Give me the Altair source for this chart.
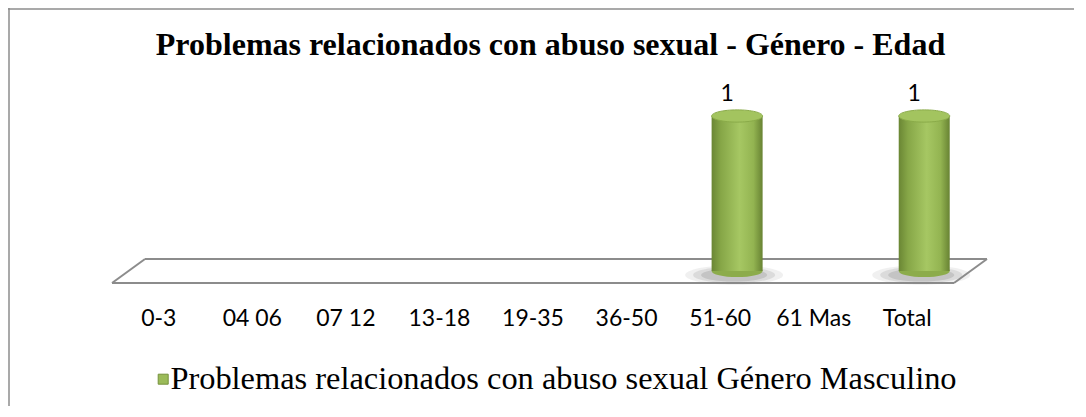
import altair as alt
import pandas as pd

# ---- data ----
categories = ["0-3", "04 06", "07 12", "13-18", "19-35", "36-50", "51-60", "61 Mas", "Total"]
values = [0, 0, 0, 0, 0, 0, 1, 0, 1]
series_name = "Problemas relacionados con abuso sexual Género Masculino"
title_text = "Problemas relacionados con abuso sexual - Género - Edad"

df = pd.DataFrame({"edad": categories, "valor": values, "serie": series_name})
one = pd.DataFrame({"k": [0]})

W, H = 842, 155
GREY = "#8C8C8C"

xenc = alt.X(
    "edad:N",
    sort=categories,
    scale=alt.Scale(domain=categories, paddingInner=0, paddingOuter=0),
    axis=alt.Axis(
        title=None, domain=False, ticks=False, grid=False, labelAngle=0,
        labelFont="Lato", labelFontSize=23, labelColor="black",
        labelPadding=36, labelLimit=0, labelOverlap=False,
    ),
)
yscale = alt.Scale(domain=[0, 1], nice=False, zero=True)
yenc = alt.Y("valor:Q", scale=yscale, axis=None)
y0enc = alt.Y("cero:Q", scale=yscale, axis=None)

body_grad = alt.Gradient(
    gradient="linear", x1=0, x2=1, y1=0, y2=0,
    stops=[
        alt.GradientStop(offset=0, color="#6A8634"),
        alt.GradientStop(offset=0.18, color="#86A647"),
        alt.GradientStop(offset=0.55, color="#A6C763"),
        alt.GradientStop(offset=0.82, color="#93B451"),
        alt.GradientStop(offset=1, color="#688333"),
    ],
)

ELLIPSE = "M -1 0 A 1 0.24 0 1 1 1 0 A 1 0.24 0 1 1 -1 0 Z"
FLAT = "M -1 0 A 1 0.2 0 1 1 1 0 A 1 0.2 0 1 1 -1 0 Z"
LEGEND_SQUARE = "M 0.8 -1 L 2.8 -1 L 2.8 1 L 0.8 1 Z"
BAR_W = 51
DEPTH_DX = 17

base = alt.Chart(df).encode(x=xenc)
pos = base.transform_filter("datum.valor > 0").transform_calculate(cero="0")

# chart title
title = alt.Chart(one).mark_text(
    text=title_text, font="Liberation Serif", fontSize=32, fontWeight="bold",
    color="black", align="center", baseline="alphabetic",
).encode(x=alt.value(438.5), y=alt.value(-61))

# frame (left and top border of the chart box)
frame_left = alt.Chart(one).mark_rule(color=GREY, strokeWidth=1.5).encode(
    x=alt.value(-103), y=alt.value(-108), y2=alt.value(H + 135)
)
frame_top = alt.Chart(one).mark_rule(color=GREY, strokeWidth=1.5).encode(
    x=alt.value(-104), x2=alt.value(W + 120), y=alt.value(-107)
)

# 3-D floor (parallelogram)
def edge(x1, y1, x2, y2):
    return alt.Chart(one).mark_rule(color=GREY, strokeWidth=2).encode(
        x=alt.value(x1), y=alt.value(y1), x2=alt.value(x2), y2=alt.value(y2)
    )

floor = [
    edge(0, 167, W, 167),
    edge(33, 143, W + 33, 143),
    edge(0, 167, 33, 143),
    edge(W, 167, W + 33, 143),
]

shadows = [
    pos.mark_point(
        shape=FLAT, size=s * s, filled=True, color="#808080", opacity=op,
        strokeWidth=0, xOffset=DEPTH_DX - 3, yOffset=4,
    ).encode(y=y0enc)
    for s, op in ((98, 0.12), (82, 0.18), (66, 0.25))
]

bottom_cap = pos.mark_point(
    shape=ELLIPSE, size=BAR_W * BAR_W, filled=True, color="#8CAC4B", opacity=1,
    strokeWidth=0, xOffset=DEPTH_DX,
).encode(y=y0enc)

bars = pos.mark_bar(size=BAR_W, color=body_grad, xOffset=DEPTH_DX).encode(y=yenc)

top_cap = pos.mark_point(
    shape=ELLIPSE, size=BAR_W * BAR_W, filled=True, color="#A3C45F", opacity=1,
    stroke="#8AAB49", strokeWidth=1, xOffset=DEPTH_DX,
).encode(y=yenc)

labels = pos.mark_text(
    font="Lato", fontSize=23, color="black", baseline="middle", dx=7, dy=-22
).encode(y=yenc, text=alt.Text("valor:Q"))

legend_layer = base.mark_square(opacity=0).encode(
    y=yenc,
    color=alt.Color(
        "serie:N",
        scale=alt.Scale(range=["#9BBB59"]),
        legend=alt.Legend(
            title=None, orient="none", legendX=26, legendY=247,
            labelFont="Liberation Serif", labelFontSize=32.4, labelColor="black",
            labelLimit=0, labelOffset=0, symbolType=LEGEND_SQUARE,
            symbolSize=100, symbolOpacity=1, symbolStrokeColor="#76923C",
            symbolStrokeWidth=1, padding=0,
        ),
    ),
)

chart = alt.layer(
    frame_left, frame_top, title, *floor, *shadows, bottom_cap, bars, top_cap,
    labels, legend_layer
).properties(
    width=W,
    height=H,
    autosize=alt.AutoSizeParams(type="none"),
    padding={"left": 104, "top": 108, "right": 120, "bottom": 135},
).configure(background="white").configure_view(stroke=None, strokeWidth=0)

chart.save("out.html", embed_options={"renderer": "svg", "actions": False})
